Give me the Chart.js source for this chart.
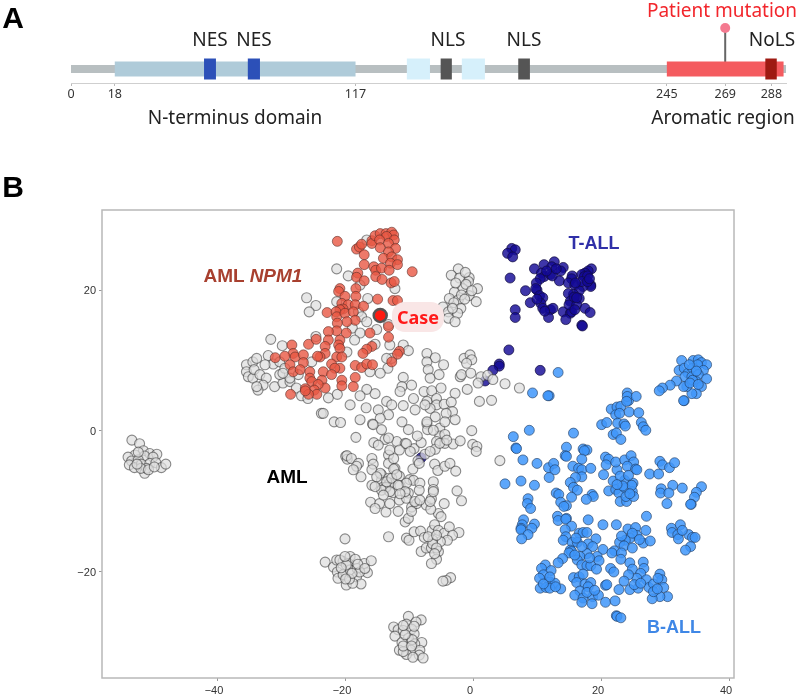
<!DOCTYPE html>
<html>
<head>
<meta charset="utf-8">
<title>NPM1 mutation and t-SNE map</title>
<script src="https://cdn.jsdelivr.net/npm/chart.js@4/dist/chart.umd.min.js"></script>
<style>
  html, body { margin: 0; background: #fff; overflow: hidden; }
  #page { position: relative; width: 800px; height: 696px; }
  canvas { position: absolute; left: 0; }
  #proteinChart { top: 0; }
  #tsneChart { top: 125px; }
  .txt { position: absolute; transform: translate(-50%, -50%); white-space: nowrap; font-family: "Noto Sans", sans-serif; color: #222; }
  .panel { font: bold 30px "Liberation Sans", sans-serif; color: #000; }
  .site, .region { font-size: 19px; }
  .group { font: bold 19px "Liberation Sans", sans-serif; }
  .case { font: bold 18px "Noto Sans", sans-serif; color: #ff1a1a; background: #f9e6e6; border-radius: 13px; padding: 3px 5px; }
</style>
</head>
<body>
<div id="page">
  <canvas id="proteinChart" width="800" height="125"></canvas>
  <canvas id="tsneChart" width="800" height="571"></canvas>

  <div class="txt panel" style="left:13px;top:18px">A</div>
  <div class="txt panel" style="left:13px;top:187px">B</div>

  <div class="txt site" style="left:210px;top:39px">NES</div>
  <div class="txt site" style="left:254px;top:39px">NES</div>
  <div class="txt site" style="left:448px;top:39px">NLS</div>
  <div class="txt site" style="left:524px;top:39px">NLS</div>
  <div class="txt site" style="left:772px;top:39px">NoLS</div>
  <div class="txt region" style="left:722px;top:10px;color:#f2262c">Patient mutation</div>
  <div class="txt region" style="left:235px;top:117px">N-terminus domain</div>
  <div class="txt region" style="left:723px;top:117px">Aromatic region</div>

  <div class="txt group" style="left:253px;top:276px;color:#a8402f">AML <i>NPM1</i></div>
  <div class="txt group" style="left:594px;top:243px;font-size:18px;color:#3030a8">T-ALL</div>
  <div class="txt group" style="left:674px;top:627px;font-size:18px;color:#3f87e6">B-ALL</div>
  <div class="txt group" style="left:287px;top:477px;color:#000">AML</div>
  <div class="txt case" style="left:418px;top:317px">Case</div>
</div>

<script>
// protein track, residue numbers
const proteinTicks = [0, 18, 117, 245, 269, 288];
const backbone = [0, 294];
const ntermDomain = [18, 117];
const aromaticRegion = [245, 293];
const nesSites = [[54.7, 59.6], [72.7, 77.7]];
const nlsSites = [[152, 156.6], [183.9, 188.7]];
const acidicBlocks = [[138.1, 147.6], [160.7, 170.2]];
const nolsSite = [285.5, 290.2];
const mutationResidue = 269;
const mutationStem = [0, 41];

// t-SNE axes
const xTicks = [-40, -20, 0, 20, 40];
const yTicks = [-20, 0, 20];
const casePoint = [[-14.5, 16.4]];

const npm1Points = [
  [-21.2,26.9],[-18.2,25.8],[-17.75,26.1],[-17.4,26.5],[-17,25],[-17,23.6],[-15.8,27],[-15.8,26.6],[-15.3,27.7],[-14.5,28],
  [-13.6,28],[-12.7,28.2],[-12.4,27.8],[-13.5,27.6],[-14.6,27.1],[-12.3,27.1],[-13.2,26.6],[-14.5,26],[-12.1,25.9],[-13.2,25.4],
  [-14,24.5],[-12.7,24.7],[-11.8,24.3],[-12.9,23.8],[-11.8,23.6],[-15.5,23.3],[-15.2,22.8],[-14.3,23.1],[-13.1,22.8],[-9.5,22.6],
  [-18,22.4],[-18.2,21.8],[-17,21.3],[-15.2,21.9],[-14.2,21.5],[-12.8,21],[-12.3,21.2],[-20.8,20.2],[-21,19.8],[-18.3,20.2],
  [-18.3,19.1],[-20,19.1],[-14.9,18.7],[-12.5,18.5],[-11.8,18.5],[-20.5,18.1],[-19.5,17.9],[-18.4,17.9],[-20.3,17.3],[-20.8,17.2],
  [-22.8,16.8],[-21.4,16.9],[-21.3,16.2],[-20,16.7],[-18.7,16.9],[-17.1,17.7],[-18.4,15.7],[-19.7,15.5],[-21.2,15.3],[-19.8,13.9],
  [-21.3,14.2],[-22.6,14.1],[-13.2,14.8],[-16.1,13.9],[-13.2,13.3],[-20.8,12.9],[-22.6,12.9],[-21,12.2],[-23.1,12],[-20.8,11.7],
  [-23.1,11],[-21.3,10.5],[-20.5,10.5],[-23.9,10.5],[-11.5,11.3],[-11.8,10.9],[-15.8,12],[-16.6,11.6],[-17.2,11],[-22.1,9.5],
  [-18.4,9.3],[-17.4,9],[-16.6,9.5],[-15.7,9.4],[-12.7,9.8],[-20.8,8.9],[-21.6,8.9],[-23.4,8.4],[-22.1,8],[-23.6,7.2],
  [-20.5,7.2],[-18.4,7.6],[-18.7,6.3],[-20.5,6.4],[-23.1,6.1],
  [-28.3,12.2],[-28.1,11],[-27.8,10.5],[-26.5,10.8],[-25.7,12.3],[-24.5,13],[-24.3,10.6],[-30.9,10.4],[-29.4,10.6],[-26.5,9.7],
  [-28.6,9.4],[-28.1,8.4],[-27,8.7],[-25.5,8.4],[-25.5,7.5],[-25.2,7],[-24.2,6.6],[-26.2,6],[-24.8,5.8],[-24.4,5.2],
  [-25.7,5.2],[-26.2,5.7],[-28.5,5.2]
];

const tallPoints = [
  [12.7,24],[11.1,23.6],[12.3,23.3],[9.6,23],[14.1,23.2],[13.7,22.7],[18.5,23],[18,22.7],[17.5,22.4],[17,22.2],
  [10.7,22.4],[11.1,21.9],[10.5,21.6],[12.1,22.2],[12.4,22],[13.5,21.3],[15.5,22],[15.4,21.6],[14.9,21],[15.9,20.7],
  [17.4,21.9],[18.4,20.7],[18.4,20.5],[17.2,20.5],[9.9,21],[10,20],[8.2,19.9],[9.8,20.2],[10.4,19.2],[10.9,18.9],
  [10.6,18.1],[8.95,18.2],[10.9,17.4],[12.1,17.2],[12.5,17.4],[11.8,16.1],[14.1,16.9],[15.2,16.7],[15.4,16.9],[14.5,15.8],
  [16.6,19.9],[15.7,19.4],[14.9,19.5],[16.6,18.8],[15.2,18.4],[15,17.9],[16.2,17.9],[17.5,17.4],[18.3,16.8],[17,15],
  [17.1,14.9],[10.5,8.6],[6.05,25.9],[6.6,25.7],[5.4,25.2],[6.2,24.7],[5.8,21.7],[6.6,17.2],[6.6,16.1],[5.6,11.5],
  [4.1,9.5],[4.1,9.2],[3.1,8.6],[1.9,7.1],[-8.1,-3.8],
  [17.9,22],[17,21.2],[16,21],[15.8,19],[16.2,18.9],[11.5,22.7],[13,23],[10,18.7],[11.2,17],[15.9,17.2],
  [17.9,21.2],[18.2,21.6]
];

const ballPoints = [
  [6.3,-0.8],[8.8,0.1],[15.7,-0.3],[6.7,-2.4],[6.8,-2.5],[7.8,-4.1],[10,-4.6],[14.6,-2.3],[14.4,-3.5],[14.6,-3.6],
  [17.2,-2.55],[17.8,-2.7],[17.4,-2.8],[17,-4],[11.8,-5.2],[12.6,-4.6],[12.8,-5.5],[11.9,-6.6],[5,-7.5],[7.5,-7.1],
  [9.6,-7.7],[15.6,-5],[16.5,-5.3],[17,-5.5],[18.4,-5.3],[17,-6.5],[16,-6.6],[15.2,-7.3],[15.7,-8],[16.3,-8.4],
  [15.4,-9.4],[13,-8.8],[13.4,-9],[13.7,-10.1],[14.6,-10.6],[14.2,-10.7],[18.6,-9],[18.8,-9.3],[17.7,-9.7],[20.4,-6.2],
  [21.2,-8.5],[20.7,-3.7],[21.2,-4],[20.8,-4.8],[22.5,-5.5],[22.3,-4.4],[23.7,-4.1],[24.7,-3.5],[25.1,-4.4],[24.1,-5],
  [25.4,-5.4],[25.6,-5.5],[21.9,-7.1],[23.7,-7],[25,-7.4],[22.3,-8.3],[22.8,-8.8],[23.8,-8.1],[24.9,-8.6],[23,-10],
  [24,-10],[23.9,-9.3],[25.1,-9.3],[24.8,-7.7],[23.4,-7.8],[27.6,-6.1],[29,-6.1],[29.2,-4.3],[29.6,-4.8],[30.7,-5.2],
  [31.5,-4.5],[29.4,-8.2],[29.3,-8.8],[31.2,-7.7],[32.7,-8.1],[30.6,-8.8],[30.3,-10.3],[35.7,-7.9],[34.9,-8.7],[34.6,-9.4],
  [34.1,-10.4],[34,-10.4],[8.6,-9.6],[8.5,-10.3],[9,-11],[7.9,-12.6],[7.7,-13.3],[7.5,-13.8],[7.5,-14],[9.6,-13.2],
  [9.2,-13.8],[8.6,-14.7],[7.6,-15.3],[13.2,-12.1],[13.3,-12.7],[14.6,-12.4],[14.5,-12.5],[18,-12.6],[20.3,-13.3],[22.4,-13.3],
  [27.1,-12.1],[15.4,-13.5],[14.4,-14],[14.5,-15],[14.1,-15.5],[16.6,-14.5],[17.2,-14.4],[17.8,-14.4],[15.5,-15.8],[16.3,-15.8],
  [15.2,-16.9],[15.4,-17.1],[15,-17.3],[14,-18.1],[13.3,-18.7],[19.2,-15.3],[18,-16],[18.7,-16.4],[20.3,-16.8],[19.4,-17.8],
  [19.7,-18.4],[17.8,-17.4],[16.7,-17.8],[16.3,-18.3],[17,-19],[17.8,-19.1],[18.4,-19.1],[19.3,-19.6],[24.2,-13.9],[25.4,-13.7],
  [25.6,-14.8],[27,-14.1],[24.5,-15.2],[23.8,-15.5],[22.9,-15.8],[23.6,-16.3],[24.9,-16.6],[26.6,-15.9],[27.7,-15.6],[22.1,-17],
  [21.7,-17.3],[23.2,-17.3],[23.1,-18.2],[24.5,-18.7],[24.9,-19.6],[31,-13.8],[32.4,-13.3],[31.1,-14.4],[32,-14.7],[32.1,-15.3],
  [33.7,-14.7],[34.3,-15.1],[34.7,-15.1],[34,-16.4],[33.2,-16.9],[21.5,-19.5],[22,-20],[26.6,-18.6],[26.7,-19.5],[26.2,-20.2],
  [25.6,-20.9],[24.3,-20.4],[23.6,-21.3],[24.5,-22.5],[25.8,-22.3],[27.1,-21.1],[27.5,-22.2],[28.2,-21.7],[29.2,-20.3],[29.5,-21.1],
  [29.8,-22.2],[30.4,-23.5],[29.2,-23.5],[28,-23.8],[28.2,-22.8],[25.2,-21.8],[11.3,-19],[10.7,-19.5],[12.2,-19.8],[11,-20.4],
  [10.4,-20.9],[12,-21.4],[12.8,-21.6],[13.7,-22.4],[10.5,-22.3],[11.4,-22.2],[12,-22.3],[12.9,-22.1],[15.7,-20.8],[16.6,-20.7],
  [16.2,-21.5],[17.5,-21.7],[18.4,-21.5],[16.7,-22.7],[18,-22.1],[15.9,-23.3],[17.2,-23.7],[17,-24.3],[18.7,-23.5],[18.6,-24.5],
  [19.6,-23.3],[20.7,-24.3],[22.2,-24.1],[20.7,-21.9],[20.9,-21.8],[22.8,-22.5],[22.4,-26.2],[22.5,-26.3],[23.1,-26.5],
  [21.6,3.1],[22.5,3.4],[23.1,3.5],[24.3,4.3],[22.3,2.3],[22.9,2.5],[24.4,2.7],[25.9,2.6],[20.1,0.9],[20.9,1.2],
  [22.6,1.1],[23.6,1],[23.8,0.7],[26.3,1.2],[26.6,0.6],[27,0.1],[21.9,-0.5],[22.4,-0.3],[23.1,-1.2],[33,4.3],
  [32.6,10],[34.4,10],[35.2,10.1],[35.7,9.7],[36.5,9.4],[32.2,8.6],[33,8.9],[33.6,8.2],[34.3,8.9],[35.1,9.4],
  [36,8.6],[33.1,7.7],[34.2,7.7],[35.2,8],[36.5,7.4],[34.9,7],[35.7,6.3],[34.9,5.3],[34.2,5.3],[33.4,6.3],
  [32.9,6.3],[31.8,7.1],[30.8,6.5],[29.6,6.1],[29.1,5.7],[32.9,4.3],
  [13.3,8.3],[9.3,5.4],[11.9,5],[11.7,5],[24.1,5.4],[24.1,4.9],[25.5,4.9],[24,4.2],
  // fuller parts of the B-ALL clusters
  [16.1,-15.2],[17,-16.4],[15.9,-17.6],[18.2,-18],[17.2,-20.3],[17.8,-22.9],[19,-22.6],[12,-20.7],[11,-21.7],[28.8,-22.4],
  [28.9,-20.9],[26.2,-21.6],[24.9,-14.5],[23.2,-14.9],[26,-15.4],[32.7,-14.1],[23,-6.4],[24.3,-6.3],[22.5,-7.6],[24.5,-8.9],
  [34.3,7.2],[33.8,9.4],[34.9,8.5],[33.9,6.8],[35.2,6.6]
];

const amlPoints = [
  [-26,18.9],[-24.55,17.8],[-25.6,16.9],[-31.6,13],[-29.8,12.1],[-24.55,13.4],
  [-35.4,9.4],[-35.4,8.4],[-35.1,7.7],[-34.4,9.8],[-33.8,10.3],[-32,10.7],[-34.4,7.5],[-34.2,8.7],[-33.3,8],[-32.3,7.5],
  [-32.8,6.5],[-33.6,5.8],[-33.8,6.3],[-31,6.3],[-29.7,6.8],[-28.6,7],[-30.2,8],[-31.2,9.5],[-32.5,9.4],[-30.2,9.8],
  [-29.4,8.9],[-27.6,6.1],[-26.8,5],[-25.8,4.6],[-28.6,7.5],[-29.7,8.2],[-27.3,8],[-23.7,2.5],[-25.2,9.8],
  // far left cluster
  [-53.3,-1.3],[-52.1,-1.8],[-51.5,-2.8],[-52.8,-3.4],[-53.9,-3.7],[-50.5,-3.2],[-49.4,-3.3],[-51.3,-3.55],[-50,-3.7],[-53.35,-4.26],
  [-52.3,-4.1],[-53.7,-4.8],[-52.9,-5.2],[-51.8,-4.7],[-50.5,-4.6],[-49.55,-4.5],[-48.7,-5.2],[-48,-4.7],[-51.3,-6],[-51,-5.3],
  [-52.3,-3],[-51.9,-5.3],[-50.7,-5.5],[-49.8,-5.1],[-52.5,-4.7],
  // lower left cluster
  [-20,-15.3],[-23.1,-18.6],[-21.8,-19.3],[-21.3,-18.3],[-20.3,-18.5],[-21.2,-20],[-20.2,-20.3],[-21.1,-20.9],[-19.8,-21.85],[-19.5,-18.8],
  [-19.9,-3.6],[-19.65,-4],[-21.7,1.3],[-20.7,1.2],[-20.8,-18.3],[-19.2,-17.8],[-19.5,-18.8],[-18.4,-18.2],[-20.3,-20.4],[-19.2,-19.7],
  [-18.1,-19.5],[-18.2,-20.7],[-17,-18.8],[-15.9,-18.4],[-16.5,-20.1],[-17.5,-21.7],[-18.8,-21.6],[-19.3,-21],[-17.7,-20],
  [-19.8,-19],[-20.6,-19.4],[-18.9,-20.2],[-18,-18.9],[-19.9,-21],[-16.9,-19.5],[-20,-17.8],
  // bottom cluster
  [-10.1,-26.3],[-8.1,-26.8],[-8.9,-27.1],[-10.4,-27.4],[-12.4,-27.8],[-11.7,-28.2],[-10.9,-28.3],[-9.6,-28.1],[-12.2,-29.1],[-9.2,-28.8],
  [-10.1,-29.4],[-11.1,-30],[-8,-30],[-9.1,-30.2],[-11.5,-31.1],[-9.7,-31.1],[-8.3,-31.1],[-10.4,-31.7],[-8.4,-31.8],[-7.8,-32.2],
  [-9.4,-32.1],[-10.9,-31.3],[-9.5,-29.6],[-10.6,-28.9],[-10.9,-30.5],[-9.6,-30.5],[-9.2,-27.7],[-10.9,-27.6],
  [-13.2,-15],[-3.5,-20.8],[-4.2,-21.2],[-4.7,-21.3],
  // centre, lower arm
  [-8.1,-17.1],[-7.3,-16.6],[-6.5,-16.6],[-5.4,-17.1],[-5.7,-18.2],[-6.5,-18.8],[-10.4,-15.2],[-10,-15.5],[-9.2,-14.3],[-8.2,-14.2],
  [-7.6,-15.1],[-6.4,-14.1],[-6,-13.3],[-5.4,-14.1],[-4.5,-14.5],[-3.7,-13.6],[-2.2,-14.4],[-3.2,-14.8],[-4,-15.5],[-5.1,-15.7],
  [-6.3,-15.5],[-6.3,-16],[-7,-15],[-5.7,-14.8],[-5.7,-16.6],[-6,-17.4],
  // centre, main body
  [-18.3,-0.9],[-19.7,-3.5],[-19,-3.9],[-17.9,-4.6],[-18.2,-5],[-17.5,-6.5],[-18.7,-5.5],[-15.7,1],[-14.3,0.2],[-13.75,-1.2],
  [-15.5,-1.65],[-14.8,-2],[-13.2,-3.4],[-15.8,-3.9],[-15.6,-4.7],[-13.2,-4.6],[-12.2,-5.3],[-14.3,-6.2],[-15.8,-5.5],[-15.8,-7.7],
  [-14.3,-7],[-13.2,-6.7],[-13,-7.4],[-11.5,-6.4],[-14.1,-8],[-12.5,-8.75],[-11.4,-7.75],[-10.1,-8.8],[-16,-10.1],[-14.6,-10.3],
  [-15.3,-11],[-13.6,-11.5],[-13,-10.3],[-11.5,-9.8],[-10.4,-9.55],[-11.7,-11.4],[-10.6,-12.9],[-10.1,-12.4],[-9.6,-10.8],[-8.8,-10.3],
  [-7.3,-10.5],[-6.5,-9.6],[-5.4,-11.7],[-5,-12.15],[-6.6,-11.1],[-4.5,-10.3],[-2.5,-8.5],[-1.8,-9.9],[-6.2,-7.2],[-6.2,-8.3],
  [-6.2,-8.6],[-9.9,-6.9],[-9.3,-7],[-8.3,-7.4],[-8.4,-8.4],[-9.4,-5.4],[-8.6,-4.2],[-8.4,-4.6],[-6,-4.7],[-5.5,-5.6],
  [-4.4,-5],[-3.6,-4.6],[-2.7,-5.7],[-11.9,-1.5],[-10.6,-1.75],[-9.2,-2.5],[-8.1,-1.65],[-8.7,-0.7],[-10.1,0.2],[-7.2,1],
  [-7.1,0.2],[-5.2,0.4],[-5.2,-0.7],[-4.4,-0.5],[-5.7,-1.5],[-4.4,-1.75],[-3.1,-1.85],[-2,-1.4],[-7.5,-3.3],[-5.9,-2.6],
  [-6.7,-2.9],[-0.2,0.05],[-0.05,-1.9],[0.6,-2.2],[0.5,-2.9],[4.2,-4.2],[-11.5,-2.7],[-12.4,-3.9],[-14.5,-6],[-13.6,-8],[-10.4,-7.4],
  [-15.05,-6.5],[-13.5,-7.2],[-12.7,-6.7],[-11.7,-7.7],[-10.6,-8.6],[-14.3,-8.4],[-13,-8.6],[-11.4,-8.9],[-15.3,-7.9],[-14,-9.1],
  [-9.1,-10],[-8.3,-9.8],[-6.7,-10],[-9.6,-11.4],[-12.4,-5.4],[-11.9,-6.2],[-10.4,-1.8],[-13,-2.7],[-9.8,-2.9],[-5.2,-1.75],
  [-4.1,-1.3],[-6.2,0.1],[-13.2,-1],
  // around the NPM1 group
  [-21.3,23],[-19.5,22],[-16.6,27.1],[-17.65,20.7],[-12.2,20.2],[-16.45,18.8],[-21.3,18.35],[-17.9,16.9],[-17.4,16.2],[-16.6,15.5],
  [-15.05,14.4],[-13.2,15.1],[-18.85,14.6],[-17.65,13.9],[-18.5,12.9],[-15.3,12.3],[-13,12.2],[-10.9,12.2],[-10.1,11.4],[-12.7,10.3],
  [-13.5,10.3],[-19.7,11.2],[-13.3,8.9],[-14.5,8.2],[-16.1,8.4],[-10.9,7.6],[-11.1,6.3],[-9.6,6.5],[-11.4,5.6],[-16.6,5.9],
  [-15.3,5.3],[-17.65,5],[-22.6,4.7],[-21.2,5.2],[-19.2,3.7],[-23.4,2.5],[-16.7,3.3],[-14.8,3],[-13.5,4.2],[-12.7,3.7],
  [-10.9,3.6],[-9.3,4.6],[-9.05,3],[-11.1,1.3],[-13.2,2.3],[-14.5,1.8],[-17.65,1.6],[-15.6,0.9],
  [-7.2,11],[-5.9,10.4],[-7.2,9.8],[-4.6,9.4],[-7,8.7],[-6.7,7.5],[-5.3,8],[-2,7.7],[-1.4,10.3],[-0.46,10.8],
  [-0.2,10.1],[-1,9.6],[-1.8,8],[-0.35,8.2],[1.25,7.7],[2.3,7.9],[3.1,7.3],[0.8,6.8],[5,6.7],[7.25,6.1],
  [-0.9,5.9],[1,4.2],[2.9,4.35],[-7.65,5.6],[-6.45,5.7],[-5,6.1],[-2.8,5.35],[-7.2,4.2],[-5.7,4.6],[-5.7,3.7],
  [-4.5,3.8],[-3.4,4.1],[-3.2,2.75],[-4.2,2.5],[-6.7,3.2],[-7.5,3.7],[-5.9,2],[-7.2,1.3],[-2.8,1.6],[-4.4,1.3],
  // upper right group
  [-2.3,23],[-3.4,22.1],[-2.1,21.7],[-0.6,21.75],[-0.7,21.2],[0.7,20.2],[-1.6,20.2],[-2.9,19.7],[-3.7,18.8],[-2.3,18.6],
  [-0.6,19.2],[0.5,18.35],[-3,18.2],[-1.8,19.3],[-4.7,17.6],[-1.9,17.4],[-3.85,16.9],[-2.4,16.7],[-3.85,16],[-2.8,15.5],
  [-1.1,20.8],[-1.2,22.5],[-2.7,21],[-1.3,18.7],[-3.2,17.4],[-0.2,19.9]
];

// straight bar of the protein track, drawn as a thick two point line
function span(range, width, color) {
  return {
    data: [[range[0], 0], [range[1], 0]],
    borderColor: color,
    borderWidth: width,
    borderCapStyle: 'butt',
    pointRadius: 0,
    showLine: true
  };
}

new Chart(document.getElementById('proteinChart'), {
  type: 'scatter',
  data: {
    datasets: [
      span(nesSites[0], 21, '#2c50b8'),
      span(nesSites[1], 21, '#2c50b8'),
      span(nolsSite, 21, '#9e1a12'),
      span(nlsSites[0], 21, '#555555'),
      span(nlsSites[1], 21, '#555555'),
      span(acidicBlocks[0], 21, '#d6f0fb'),
      span(acidicBlocks[1], 21, '#d6f0fb'),
      span(ntermDomain, 15, '#afcbd9'),
      span(aromaticRegion, 15, '#f45b5f'),
      {
        data: mutationStem.map(v => [mutationResidue, v]),
        borderColor: '#666666',
        borderWidth: 2,
        showLine: true,
        pointRadius: [0, 5],
        pointBorderWidth: 0,
        pointBackgroundColor: '#f47a90'
      },
      span(backbone, 8, '#b8bfc1')
    ]
  },
  options: {
    responsive: false,
    animation: false,
    layout: { padding: { left: 71, right: 14, top: 5, bottom: 0 } },
    plugins: { legend: { display: false }, tooltip: { enabled: false } },
    scales: {
      x: {
        type: 'linear',
        min: backbone[0],
        max: backbone[1],
        afterBuildTicks: s => { s.ticks = proteinTicks.map(v => ({ value: v })); },
        afterFit: s => { s.height = 42; },
        border: { color: '#cfcfcf', width: 1 },
        grid: { drawOnChartArea: false, tickLength: 3, color: '#bbbbbb' },
        ticks: {
          autoSkip: false, maxRotation: 0, padding: 1, color: '#333',
          font: { family: '"Noto Sans", sans-serif', size: 12.5 }
        }
      },
      y: { display: false, min: -14, max: 64 }
    }
  }
});

// outline on all four sides of the t-SNE plot
const frame = {
  id: 'frame',
  afterDraw(chart) {
    const a = chart.chartArea, c = chart.ctx;
    c.save();
    c.strokeStyle = '#b8b8b8';
    c.lineWidth = 1.5;
    c.strokeRect(a.left, a.top, a.width, a.height);
    c.restore();
  }
};

const withMinus = v => String(v).replace('-', '\u2212');

function cloud(points, radius, fill, edge, borderWidth) {
  return {
    data: points,
    pointRadius: radius,
    backgroundColor: fill,
    borderColor: edge,
    borderWidth: borderWidth
  };
}

new Chart(document.getElementById('tsneChart'), {
  type: 'scatter',
  data: {
    datasets: [
      cloud(casePoint, 6.5, '#ff1a10', '#555555', 2.5),
      cloud(npm1Points, 5, 'rgba(232,88,68,0.8)', 'rgba(80,40,35,0.55)', 1),
      cloud(amlPoints, 5, 'rgba(222,222,222,0.72)', 'rgba(50,50,50,0.55)', 1.1),
      cloud(ballPoints, 5, 'rgba(64,150,250,0.85)', 'rgba(30,55,90,0.6)', 1),
      cloud(tallPoints, 5, 'rgba(20,10,150,0.82)', 'rgba(15,10,60,0.7)', 1)
    ]
  },
  options: {
    responsive: false,
    animation: false,
    layout: { padding: { left: 0, right: 66, top: 85, bottom: 0 } },
    plugins: { legend: { display: false }, tooltip: { enabled: false } },
    scales: {
      x: {
        type: 'linear',
        min: -57.97,
        max: 40.78,
        afterBuildTicks: s => { s.ticks = xTicks.map(v => ({ value: v })); },
        afterFit: s => { s.height = 18; },
        border: { display: false },
        grid: { drawOnChartArea: false, tickLength: 3, color: '#999999' },
        ticks: {
          autoSkip: false, maxRotation: 0, padding: 3, labelOffset: -3, color: '#333',
          callback: withMinus,
          font: { family: '"Liberation Sans", sans-serif', size: 11 }
        }
      },
      y: {
        type: 'linear',
        min: -35.04,
        max: 31.35,
        afterBuildTicks: s => { s.ticks = yTicks.map(v => ({ value: v })); },
        afterFit: s => { s.width = 102; },
        border: { display: false },
        grid: { drawOnChartArea: false, tickLength: 3, color: '#999999' },
        ticks: {
          autoSkip: false, padding: 3, labelOffset: 1, color: '#333',
          callback: withMinus,
          font: { family: '"Liberation Sans", sans-serif', size: 11 }
        }
      }
    }
  },
  plugins: [frame]
});
</script>
</body>
</html>
